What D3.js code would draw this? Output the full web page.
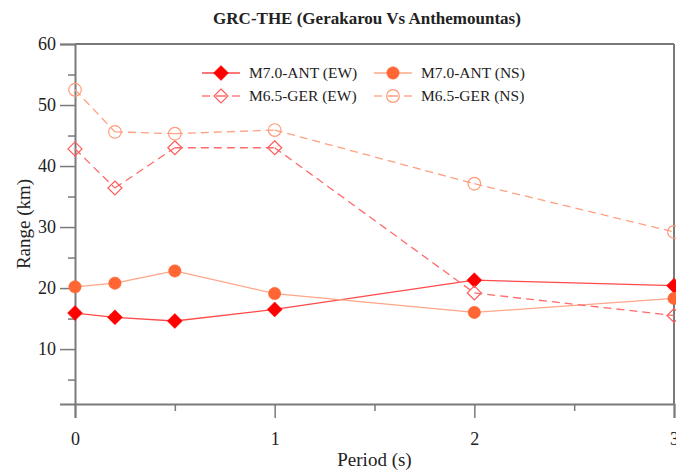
<!DOCTYPE html>
<html>
<head>
<meta charset="utf-8">
<script src="https://cdn.jsdelivr.net/npm/d3@7/dist/d3.min.js"></script>
<style>
  html, body { margin: 0; padding: 0; background: #fff; }
  svg text { font-family: "Liberation Serif", "Times New Roman", serif; fill: #222; }
</style>
</head>
<body>
<svg id="chart" width="676" height="475"></svg>
<script>
// Periods (s) at which the ranges were computed
const periods = [0, 0.2, 0.5, 1, 2, 3];

// Range (km) per scenario and component
const antEW = [15.9, 15.2, 14.6, 16.5, 21.3, 20.4];
const antNS = [20.2, 20.8, 22.8, 19.1, 16.0, 18.3];
const gerEW = [42.8, 36.4, 43.0, 43.0, 19.2, 15.5];
const gerNS = [52.5, 45.6, 45.3, 45.9, 37.1, 29.2];

const seriesNames = ["M7.0-ANT (EW)", "M7.0-ANT (NS)", "M6.5-GER (EW)", "M6.5-GER (NS)"];
const xTickValues = [0, 1, 2, 3];
const yTickValues = [10, 20, 30, 40, 50, 60];

const svg = d3.select("#chart");
const W = 676, H = 475;
const margin = { left: 75, right: 2, top: 44, bottom: 71 };

const x = d3.scaleLinear().domain([0, 3]).range([margin.left, W - margin.right]);
const y = d3.scaleLinear().domain([1, 60]).range([H - margin.bottom, margin.top]);

const axisColor = "#7a7a7a";

// Series styling
const series = [
  { name: seriesNames[0], values: antEW, line: "#ff4a4a", dash: null, marker: "diamond", fill: "#ff0000", stroke: "#ff0000" },
  { name: seriesNames[1], values: antNS, line: "#ffa688", dash: null, marker: "circle", fill: "#ff6633", stroke: "#ff6633" },
  { name: seriesNames[2], values: gerEW, line: "#ff6a6a", dash: "8,5", marker: "diamond", fill: "none", stroke: "#ff5a5a" },
  { name: seriesNames[3], values: gerNS, line: "#ffa080", dash: "8,5", marker: "circle", fill: "none", stroke: "#ff9a78" }
];

// Frame: top and right borders
svg.append("line").attr("x1", x(0)).attr("x2", x(3)).attr("y1", y(60)).attr("y2", y(60))
  .attr("stroke", axisColor).attr("stroke-width", 2);
svg.append("line").attr("x1", x(3)).attr("x2", x(3)).attr("y1", y(60)).attr("y2", y(1))
  .attr("stroke", axisColor).attr("stroke-width", 2);

// Bottom axis
const xAxis = d3.axisBottom(x).tickValues(xTickValues).tickFormat(d3.format("d")).tickSize(14).tickPadding(14);
const gx = svg.append("g").attr("transform", `translate(0,${y(1)})`).call(xAxis);
gx.select(".domain").attr("stroke", axisColor).attr("stroke-width", 2);
gx.selectAll(".tick line").attr("stroke", axisColor).attr("stroke-width", 1.5);
gx.selectAll(".tick text").style("font-size", "18px").attr("fill", "#222");
const xMinor = d3.axisBottom(x).tickValues([0.5, 1.5, 2.5]).tickSize(7).tickFormat("");
const gxm = svg.append("g").attr("transform", `translate(0,${y(1)})`).call(xMinor);
gxm.select(".domain").remove();
gxm.selectAll(".tick line").attr("stroke", axisColor).attr("stroke-width", 1.5);

// Left axis
const yAxis = d3.axisLeft(y).tickValues(yTickValues).tickSize(15).tickPadding(4);
const gy = svg.append("g").attr("transform", `translate(${x(0)},0)`).call(yAxis);
gy.select(".domain").attr("stroke", axisColor).attr("stroke-width", 2);
gy.selectAll(".tick line").attr("stroke", axisColor).attr("stroke-width", 1.5);
gy.selectAll(".tick text").style("font-size", "18px").attr("fill", "#222");
const yMinor = d3.axisLeft(y).tickValues([5, 15, 25, 35, 45, 55]).tickSize(7).tickFormat("");
const gym = svg.append("g").attr("transform", `translate(${x(0)},0)`).call(yMinor);
gym.select(".domain").remove();
gym.selectAll(".tick line").attr("stroke", axisColor).attr("stroke-width", 1.5);

// Titles
svg.append("text").attr("x", 367).attr("y", 24).attr("text-anchor", "middle")
  .style("font-size", "17px").style("font-weight", "bold").text("GRC-THE (Gerakarou Vs Anthemountas)");
svg.append("text").attr("x", x(1.5)).attr("y", 466).attr("text-anchor", "middle")
  .style("font-size", "19px").text("Period (s)");
svg.append("text").attr("transform", `translate(30,${y(30.5)}) rotate(-90)`).attr("text-anchor", "middle")
  .style("font-size", "19px").text("Range (km)");

// Marker shapes
const diamondPath = r => `M0,${-r}L${r},0L0,${r}L${-r},0Z`;
function drawMarker(g, s, cx, cy) {
  if (s.marker === "diamond") {
    g.append("path").attr("d", diamondPath(s.fill === "none" ? 7 : 7.5))
      .attr("transform", `translate(${cx},${cy})`)
      .attr("fill", s.fill).attr("stroke", s.stroke).attr("stroke-width", s.fill === "none" ? 1.2 : 0.5);
  } else {
    g.append("circle").attr("cx", cx).attr("cy", cy).attr("r", s.fill === "none" ? 6.3 : 6.2)
      .attr("fill", s.fill).attr("stroke", s.stroke).attr("stroke-width", s.fill === "none" ? 1.2 : 0.5);
  }
}

const lineGen = d3.line().x(d => x(d[0])).y(d => y(d[1]));

// Series: each segment drawn from its starting point so dashes begin at every marker
const plot = svg.append("g");
series.forEach(s => {
  const pts = periods.map((p, i) => [p, s.values[i]]);
  for (let i = 0; i < pts.length - 1; i++) {
    plot.append("path").attr("d", lineGen([pts[i], pts[i + 1]]))
      .attr("fill", "none").attr("stroke", s.line).attr("stroke-width", 1.3)
      .attr("stroke-dasharray", s.dash);
  }
});
series.forEach(s => {
  periods.forEach((p, i) => drawMarker(plot, s, x(p), y(s.values[i])));
});

// Legend
const legend = svg.append("g");
const legendPos = [[202, 73], [374, 73], [202, 96], [374, 96]];
series.forEach((s, i) => {
  const [lx, ly] = legendPos[i];
  const g = legend.append("g");
  if (s.dash) {
    g.append("line").attr("x1", lx).attr("x2", lx + 8).attr("y1", ly).attr("y2", ly)
      .attr("stroke", s.line).attr("stroke-width", 1.3);
    g.append("line").attr("x1", lx + 7).attr("x2", lx + 31).attr("y1", ly).attr("y2", ly)
      .attr("stroke", s.line).attr("stroke-width", 1.3).attr("stroke-dasharray", "0,7,10,7");
    g.append("line").attr("x1", lx + 30).attr("x2", lx + 38).attr("y1", ly).attr("y2", ly)
      .attr("stroke", s.line).attr("stroke-width", 1.3);
  } else {
    g.append("line").attr("x1", lx).attr("x2", lx + 38).attr("y1", ly).attr("y2", ly)
      .attr("stroke", s.line).attr("stroke-width", 1.3);
  }
  drawMarker(g, s, lx + 19, ly);
  g.append("text").attr("x", lx + 47).attr("y", ly + 5).style("font-size", "15.5px").text(s.name);
});
</script>
</body>
</html>
